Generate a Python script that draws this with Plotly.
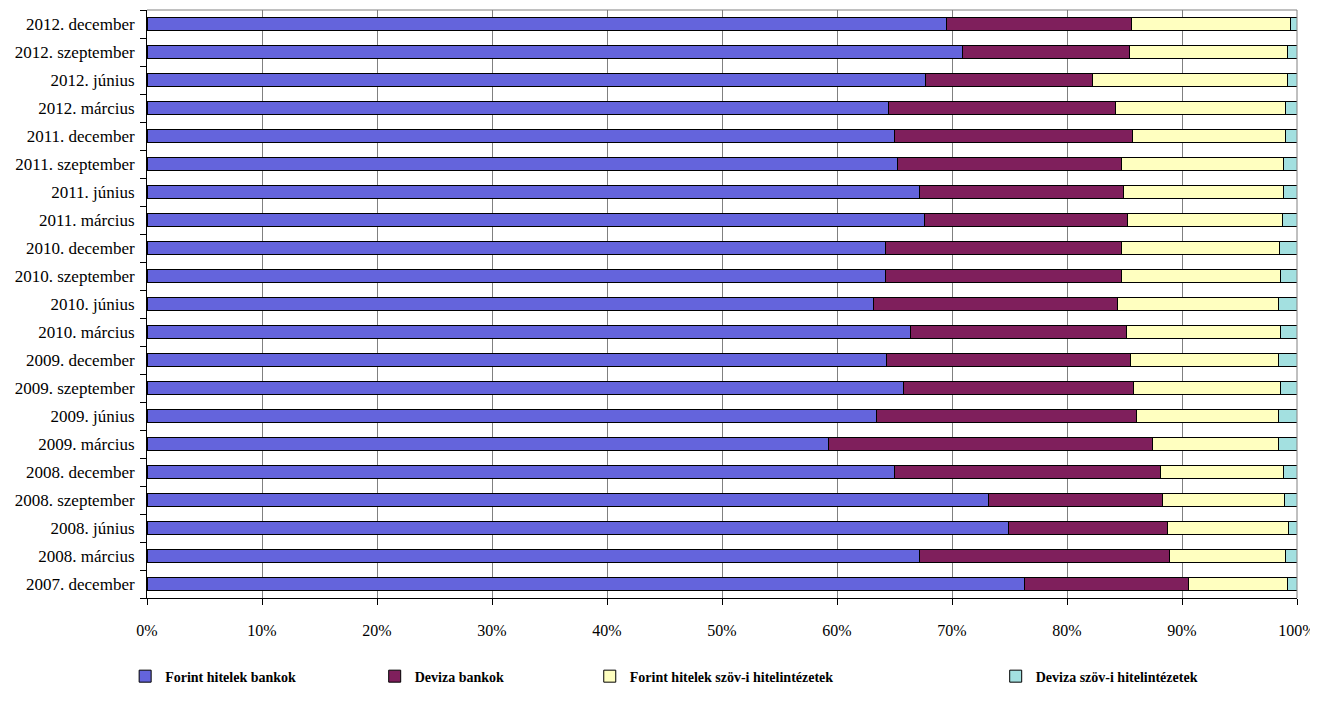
import plotly.graph_objects as go

categories = [
    "2007. december", "2008. március", "2008. június", "2008. szeptember", "2008. december",
    "2009. március", "2009. június", "2009. szeptember", "2009. december",
    "2010. március", "2010. június", "2010. szeptember", "2010. december",
    "2011. március", "2011. június", "2011. szeptember", "2011. december",
    "2012. március", "2012. június", "2012. szeptember", "2012. december",
]

forint_bankok = [76.3, 67.2, 74.9, 73.2, 65.0, 59.3, 63.4, 65.8, 64.3, 66.4, 63.2, 64.2, 64.2,
                 67.6, 67.2, 65.3, 65.0, 64.5, 67.7, 70.9, 69.5]
deviza_bankok = [14.3, 21.7, 13.8, 15.1, 23.1, 28.1, 22.6, 20.0, 21.2, 18.8, 21.2, 20.5, 20.5,
                 17.7, 17.7, 19.4, 20.7, 19.7, 14.5, 14.5, 16.1]
forint_szov = [8.6, 10.1, 10.6, 10.6, 10.7, 11.0, 12.4, 12.8, 12.9, 13.4, 14.0, 13.9, 13.8,
               13.4, 13.9, 14.1, 13.3, 14.8, 17.0, 13.8, 13.8]
deviza_szov = [0.8, 1.0, 0.7, 1.1, 1.2, 1.6, 1.6, 1.4, 1.6, 1.4, 1.6, 1.4, 1.5,
               1.3, 1.2, 1.2, 1.0, 1.0, 0.8, 0.8, 0.6]

series_names = ["Forint hitelek bankok", "Deviza bankok",
                "Forint hitelek szöv-i hitelintézetek", "Deviza szöv-i hitelintézetek"]
series_values = [forint_bankok, deviza_bankok, forint_szov, deviza_szov]
colors = ["#6464DC", "#7F1F5C", "#FFFFC0", "#A3E0E0"]
legend_ids = ["legend", "legend2", "legend3", "legend4"]
legend_x = [-0.019, 0.198, 0.385, 0.738]

FONT = "Liberation Serif, Times New Roman, serif"

fig = go.Figure()
for name, vals, col, lid in zip(series_names, series_values, colors, legend_ids):
    fig.add_trace(go.Bar(
        y=categories, x=vals, name=name, orientation="h",
        marker=dict(color=col, line=dict(color="#000000", width=1)),
        legend=lid,
    ))

leg = {}
for lid, lx in zip(legend_ids, legend_x):
    leg[lid] = dict(orientation="h", yanchor="middle", xanchor="left",
                    x=lx, y=-0.1336,
                    font=dict(family=FONT, size=14, color="#000000", weight="bold"),
                    bgcolor="rgba(0,0,0,0)", itemwidth=30)

# the page body has an 8px margin, so the figure is 8px smaller than the window
fig.update_layout(
    barmode="stack",
    bargap=0.57,
    width=1310, height=702,
    margin=dict(l=139, r=21, t=2, b=112, autoexpand=False),
    plot_bgcolor="#FFFFFF", paper_bgcolor="#FFFFFF",
    font=dict(family=FONT, size=16, color="#000000"),
    showlegend=True,
    **leg,
)

fig.update_xaxes(
    range=[0, 100], dtick=10, ticksuffix="%",
    showgrid=True, gridcolor="#808080", gridwidth=1,
    showline=True, linecolor="#000000", linewidth=1,
    ticks="outside", ticklen=6, tickcolor="#000000",
    ticklabelstandoff=12, zeroline=False, mirror=False, automargin=False,
    tickfont=dict(family=FONT, size=16),
)
fig.update_yaxes(
    categoryorder="array", categoryarray=categories,
    showline=True, linecolor="#000000", linewidth=1,
    ticks="outside", ticklen=6, tickcolor="#000000", tickson="boundaries",
    ticklabelstandoff=8,
    showgrid=False, automargin=False, tickfont=dict(family=FONT, size=17),
)
# plot-area frame lines (top and right) in grey
fig.add_shape(type="line", xref="paper", yref="paper", x0=0, x1=1, y0=1, y1=1,
              line=dict(color="#808080", width=1))
fig.add_shape(type="line", xref="paper", yref="paper", x0=1, x1=1, y0=0, y1=1,
              line=dict(color="#808080", width=1))

fig.write_html("out.html")
